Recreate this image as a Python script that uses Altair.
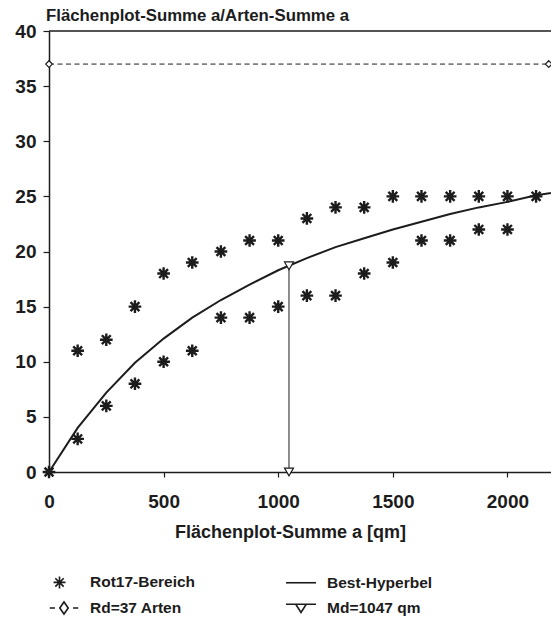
import altair as alt
import pandas as pd

# Species-area accumulation: observed plot sums (two series per area step)
area_qm = [0, 125, 125, 250, 250, 375, 375, 500, 500, 625, 625, 750, 750,
           875, 875, 1000, 1000, 1125, 1125, 1250, 1250, 1375, 1375,
           1500, 1500, 1625, 1625, 1750, 1750, 1875, 1875, 2000, 2000, 2125]
species = [0, 11, 3, 12, 6, 15, 8, 18, 10, 19, 11, 20, 14,
           21, 14, 21, 15, 23, 16, 24, 16, 24, 18,
           25, 19, 25, 21, 25, 21, 25, 22, 25, 22, 25]

# Fitted hyperbola, sampled along the area axis
curve_qm = [0, 125, 250, 375, 500, 625, 750, 875, 1000, 1125, 1250, 1375,
            1500, 1625, 1750, 1875, 2000, 2125, 2250]
curve_species = [0, 4.0, 7.2, 9.9, 12.1, 14.0, 15.6, 17.0, 18.3, 19.4, 20.4,
                 21.2, 22.0, 22.7, 23.4, 24.0, 24.5, 25.1, 25.5]

# Asymptote Rd and half-saturation area Md
rd_species = 37
rd_span_qm = [0, 2180]
md_qm = 1047
md_species = 18.7

# Legend entries, filled column by column
legend_labels = ["Rot17-Bereich", "Rd=37 Arten", "Best-Hyperbel", "Md=1047 qm"]

x_ticks = [0, 500, 1000, 1500, 2000]
y_ticks = [0, 5, 10, 15, 20, 25, 30, 35, 40]
x_max = 2190

FONT = "Liberation Sans"
INK = "#1c1c1c"

STAR = "M-1,0L1,0M0,-1L0,1M-0.7,-0.7L0.7,0.7M-0.7,0.7L0.7,-0.7"
legend_paths = [
    "M-0.7,0L0.1,0M-0.3,-0.4L-0.3,0.4M-0.58,-0.28L-0.02,0.28M-0.58,0.28L-0.02,-0.28",
    "M-0.95,0L-0.6,0M-0.28,0L0,-0.4L0.28,0L0,0.4ZM0.6,0L0.95,0",
    "M-1,0L1,0",
    "M-1,-0.25L1,-0.25M-0.35,-0.25L0.35,-0.25L0,0.3Z",
]

pts = pd.DataFrame({"a": area_qm, "s": species})
curve = pd.DataFrame({"a": curve_qm, "s": curve_species})
rd = pd.DataFrame({"a": rd_span_qm, "s": [rd_species] * len(rd_span_qm)})
md = pd.DataFrame({"a": [md_qm, md_qm], "s": [0, md_species]})
top = pd.DataFrame({"s": [40]})
leg = pd.DataFrame({"k": legend_labels})

x_enc = alt.X("a:Q", scale=alt.Scale(domain=[0, x_max], nice=False, zero=False),
              axis=alt.Axis(values=x_ticks, title="Flächenplot-Summe a [qm]",
                            format="d", labelPadding=15, titlePadding=12,
                            titleX=241, tickSize=5, labelFlush=False))
y_enc = alt.Y("s:Q", scale=alt.Scale(domain=[0, 40], nice=False),
              axis=alt.Axis(values=y_ticks, title=None, tickSize=6,
                            labelPadding=7))

frame_top = alt.Chart(top).mark_rule(color=INK, strokeWidth=1.5).encode(
    y=alt.Y("s:Q"))

hyper = alt.Chart(curve).mark_line(color=INK, strokeWidth=2, clip=True).encode(
    x=x_enc, y=y_enc)

stars = alt.Chart(pts).mark_point(shape=STAR, size=160, stroke=INK,
                                  strokeWidth=2.4, opacity=1).encode(
    x="a:Q", y="s:Q")

rd_line = alt.Chart(rd).mark_line(color=INK, strokeWidth=1,
                                  strokeDash=[5, 3.5]).encode(x="a:Q", y="s:Q")
rd_marks = alt.Chart(rd).mark_point(shape="diamond", size=45, filled=True,
                                    fill="white", stroke=INK, strokeWidth=1.2,
                                    opacity=1).encode(x="a:Q", y="s:Q")

md_line = alt.Chart(md).mark_line(color=INK, strokeWidth=1).encode(
    x="a:Q", y="s:Q")
md_marks = alt.Chart(md).mark_point(shape="triangle-down", size=80, filled=True,
                                    fill="white", stroke=INK, strokeWidth=1.2,
                                    opacity=1).encode(x="a:Q", y="s:Q")

key = alt.Chart(leg).mark_point(stroke=INK, strokeWidth=1.6, opacity=1).encode(
    shape=alt.Shape("k:N", scale=alt.Scale(domain=legend_labels,
                                           range=legend_paths),
                    legend=alt.Legend(title=None, orient="none", legendX=-1,
                                      legendY=535, columns=2,
                                      columnPadding=86, rowPadding=-3,
                                      symbolSize=900, symbolStrokeWidth=1.6,
                                      symbolStrokeColor=INK,
                                      labelFont=FONT, labelFontSize=15.5,
                                      labelFontWeight="bold",
                                      labelColor=INK, labelOffset=10,
                                      labelLimit=300))
).transform_filter(alt.datum.k == "__none__")

chart = alt.layer(
    frame_top, hyper, md_line, rd_line, stars, rd_marks, md_marks, key
).properties(
    width=502, height=441,
    title=alt.TitleParams("Flächenplot-Summe a/Arten-Summe a", anchor="start",
                          frame="group", font=FONT, fontSize=16.8,
                          fontWeight="bold", color=INK, offset=-3, dx=-3),
    padding={"left": 49, "top": 31, "right": 0, "bottom": 152},
    autosize=alt.AutoSizeParams(type="none"),
    background="white",
).configure_view(stroke=None).configure_axis(
    grid=False, domainColor=INK, domainWidth=1.5, tickColor=INK, tickWidth=1.2,
    labelFont=FONT, labelFontSize=19, labelFontWeight="bold", labelColor=INK,
    titleFont=FONT, titleFontSize=18, titleFontWeight="bold",
    titleColor=INK,
)

chart.save("out.html", embed_options={"renderer": "svg", "actions": False})
